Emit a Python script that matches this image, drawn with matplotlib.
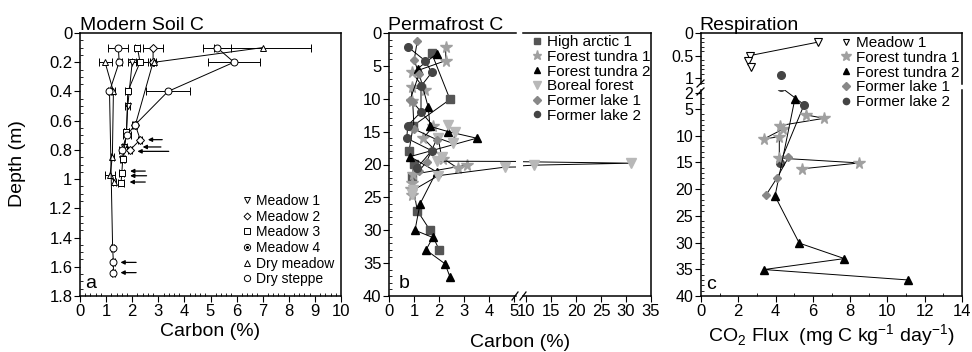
import matplotlib.pyplot as plt
from matplotlib.lines import Line2D
from matplotlib.ticker import MultipleLocator, FuncFormatter

plt.rcParams['font.family'] = ['Liberation Sans', 'DejaVu Sans']
plt.rcParams['mathtext.fontset'] = 'custom'
plt.rcParams['mathtext.rm'] = 'Liberation Sans'

# ---- panel a: Modern soil C (depth m, carbon %, error) ----
m1_d = [0.2, 0.5, 0.68, 0.78, 0.86]
m1_c = [2.0, 1.83, 1.78, 1.7, 1.62]
m1_e = [0.15, 0.1, 0.1, 0.1, 0.08]
m2_d = [0.1, 0.2, 0.63, 0.73, 0.8]
m2_c = [2.8, 2.8, 2.12, 2.31, 1.92]
m2_e = [0.37, 0.12, 0.08, 0.08, 0.08]
m3_d = [0.1, 0.2, 0.4, 0.68, 0.86, 0.96, 1.03]
m3_c = [2.2, 2.3, 1.83, 1.78, 1.64, 1.6, 1.57]
m3_e = [0.1, 0.3, 0.1, 0.08, 0.08, 0.1, 0.1]
m4_d = [0.1, 0.2, 0.4, 0.63, 0.7, 0.8]
m4_c = [5.25, 5.9, 3.37, 2.1, 1.8, 1.6]
m4_e = [0.55, 1.0, 0.85, 0.1, 0.15, 0.1]
dm_top_d = [0.1, 0.2]
dm_top_c = [7.0, 2.85]
dm_top_e = [1.85, 0.0]
dm_d = [0.2, 0.4, 0.85, 0.97, 1.02]
dm_c = [0.96, 1.28, 1.24, 1.15, 1.32]
dm_e = [0.25, 0.05, 0.05, 0.2, 0.05]
ds_d = [0.1, 0.2, 0.4, 1.47, 1.57, 1.64]
ds_c = [1.47, 1.5, 1.13, 1.25, 1.28, 1.28]
ds_e = [0.38, 0.1, 0.05, 0.05, 0.05, 0.05]
arrow_d = [0.73, 0.78, 0.81, 0.945, 0.977, 1.02, 1.57, 1.64]
arrow_head = [2.6, 2.4, 2.2, 1.92, 1.92, 1.9, 1.55, 1.55]
arrow_tail = [3.15, 3.1, 3.4, 2.5, 2.55, 2.5, 2.15, 2.15]

# ---- panel b: Permafrost C (depth m, carbon %) ----
ha_d = [3.1, 10.1, 14.1, 18.0, 19.9, 21.9, 27.0, 30.0, 33.0]
ha_c = [1.71, 2.44, 0.97, 0.80, 1.00, 0.90, 1.13, 1.64, 2.01]
ft1_d = [2.1, 4.2, 6.0, 8.7, 8.2, 10.3, 14.2, 16.0, 19.1, 20.6, 20.1, 21.5, 22.8, 23.8, 24.6]
ft1_c = [2.27, 2.27, 0.93, 1.44, 0.91, 0.91, 1.77, 1.37, 2.17, 2.77, 3.11, 0.95, 0.9, 0.88, 0.92]
ft2_d = [3.2, 5.4, 11.3, 14.2, 15.0, 16.0, 18.8, 21.1, 26.0, 30.0, 31.1, 33.0, 35.1, 37.1]
ft2_c = [1.9, 1.15, 1.57, 1.64, 2.37, 3.51, 0.84, 1.9, 1.24, 1.04, 1.75, 1.48, 2.24, 2.44]
bf_d = [14.0, 15.0, 16.8, 16.0, 18.8, 19.5, 19.8, 20.1, 20.4, 21.7, 23.9, 24.5]
bf_c = [2.37, 2.64, 2.57, 1.97, 2.1, 1.9, 31.0, 11.5, 4.64, 1.97, 0.97, 0.9]
fl1_d = [1.2, 4.1, 6.3, 10.2, 10.5, 14.6, 16.2, 19.6, 21.0]
fl1_c = [1.13, 1.01, 1.2, 0.84, 0.95, 1.0, 1.9, 1.5, 1.2]
fl2_d = [2.1, 4.2, 6.0, 8.1, 12.0, 14.1, 16.0, 17.9, 20.6]
fl2_c = [0.75, 1.44, 1.71, 1.28, 1.28, 0.75, 0.71, 1.71, 1.1]

# ---- panel c: Respiration (depth m, CO2 flux) ----
rm1_d = [0.2, 0.5, 0.63, 0.76]
rm1_f = [6.3, 2.63, 2.54, 2.68]
rft1_d = [6.1, 6.75, 8.1, 8.8, 10.6, 10.2, 14.2, 15.1, 16.2]
rft1_f = [5.62, 6.6, 4.24, 4.38, 3.38, 4.2, 4.2, 8.5, 5.4]
rft2_d = [3.05, 21.3, 30.1, 33.0, 35.05, 37.0]
rft2_f = [5.04, 3.97, 5.27, 7.69, 3.38, 11.12]
rfl1_d = [14.05, 18.0, 21.1]
rfl1_f = [4.69, 4.06, 3.49]
rfl2_d = [0.94, 4.2, 15.1]
rfl2_f = [4.29, 5.53, 4.24]

W, H = 972, 352
fig = plt.figure(figsize=(W / 100, H / 100), dpi=100)


def box(l, t, r, b):
    return fig.add_axes([l / W, 1 - b / H, (r - l) / W, (b - t) / H])


def style(ax):
    ax.tick_params(which='major', direction='out', length=4, width=0.8, labelsize=12, pad=1.5)
    ax.tick_params(which='minor', direction='in', length=2.5, width=0.6)
    for s in ax.spines.values():
        s.set_linewidth(1.1)


def fline(x1, y1, x2, y2, lw=0.9):
    fig.add_artist(Line2D([x1 / W, x2 / W], [1 - y1 / H, 1 - y2 / H],
                          transform=fig.transFigure, color='k', lw=lw))


fmt = FuncFormatter(lambda v, p: '%g' % v)

# ================= panel a =================
ax = box(80, 33, 341, 296)
style(ax)
ax.set_xlim(0, 10)
ax.set_ylim(1.8, 0)
ax.xaxis.set_major_locator(MultipleLocator(1))
ax.xaxis.set_minor_locator(MultipleLocator(0.2))
ax.yaxis.set_major_locator(MultipleLocator(0.2))
ax.yaxis.set_minor_locator(MultipleLocator(0.05))
ax.yaxis.set_major_formatter(fmt)

eb = dict(color='k', lw=0.7, mfc='white', mec='k', mew=0.7,
          capsize=3, elinewidth=0.7, capthick=0.7)
series_a = [(m1_c, m1_d, m1_e, 'v'), (m2_c, m2_d, m2_e, 'D'), (m3_c, m3_d, m3_e, 's'),
            (m4_c, m4_d, m4_e, 'o'), (dm_top_c, dm_top_d, dm_top_e, '^'),
            (dm_c, dm_d, dm_e, '^'), (ds_c, ds_d, ds_e, 'o')]
for c, d, e, mk in series_a:
    ms = 4 if mk == 'D' else 5
    ax.errorbar(c, d, xerr=e, fmt='-', marker=mk, ms=ms, **eb)
ax.plot(m4_c, m4_d, 'o', ms=1.3, color='k')

for d, h, t in zip(arrow_d, arrow_head, arrow_tail):
    ax.annotate('', xy=(h, d), xytext=(t, d),
                arrowprops=dict(arrowstyle='-|>', color='k', lw=0.9, mutation_scale=6,
                                shrinkA=0, shrinkB=0))
ax.text(0.02, 0.015, 'a', transform=ax.transAxes, fontsize=14, va='bottom')
ax.set_xlabel('Carbon (%)', fontsize=14, labelpad=3)

hand_a = [Line2D([], [], ls='none', marker=m, ms=4.5, mfc='white', mec='k', mew=0.7)
          for m in ['v', 'D', 's', 'o', '^', 'o']]
hand_a[1].set_markersize(3.5)
hand_a[3] = (hand_a[3], Line2D([], [], ls='none', marker='o', ms=1.2, color='k'))
fig.legend(hand_a, ['Meadow 1', 'Meadow 2', 'Meadow 3', 'Meadow 4', 'Dry meadow', 'Dry steppe'],
           loc='upper left', bbox_to_anchor=(241 / W, 1 - 194 / H), frameon=False,
           fontsize=10, handlelength=0.8, handletextpad=0.3, labelspacing=0.12,
           borderpad=0, borderaxespad=0)

fig.text(18 / W, 1 - 164 / H, 'Depth (m)', rotation=90, fontsize=14, va='center', ha='center')
fig.text(80 / W, 1 - 30 / H, 'Modern Soil C', fontsize=14, va='baseline')

# ================= panel b =================
bl = box(389, 33, 516, 296)
br = box(523, 33, 651, 296)
for a in (bl, br):
    style(a)
    a.set_ylim(40, 0)
bl.set_xlim(0, 5.08)
br.set_xlim(9.4, 35)
bl.xaxis.set_major_locator(MultipleLocator(1))
br.xaxis.set_major_locator(MultipleLocator(5))
bl.yaxis.set_major_locator(MultipleLocator(5))
bl.yaxis.set_minor_locator(MultipleLocator(1))
bl.spines['right'].set_visible(False)
br.spines['left'].set_visible(False)
br.tick_params(axis='y', left=False, labelleft=False, which='both')

series_b = [(ha_c, ha_d, 's', '#555555', 5.5, 'High arctic 1'),
            (ft1_c, ft1_d, '*', '#a0a0a0', 8.5, 'Forest tundra 1'),
            (ft2_c, ft2_d, '^', 'black', 5.5, 'Forest tundra 2'),
            (bf_c, bf_d, 'v', '#b8b8b8', 6.5, 'Boreal forest'),
            (fl1_c, fl1_d, 'D', '#888888', 4.5, 'Former lake 1'),
            (fl2_c, fl2_d, 'o', '#444444', 5.5, 'Former lake 2')]
for a in (bl, br):
    for c, d, mk, col, ms, lab in series_b:
        a.plot(c, d, '-', color='k', lw=0.7, marker=mk, ms=ms, mfc=col, mec=col)
bl.text(0.08, 0.015, 'b', transform=bl.transAxes, fontsize=14, va='bottom')
fig.text(520 / W, 1 - 347 / H, 'Carbon (%)', fontsize=14, ha='center', va='baseline')
fig.text(388 / W, 1 - 30 / H, 'Permafrost C', fontsize=14, va='baseline')
fline(512, 300, 518, 292)
fline(520, 300, 526, 292)

hand_b = [Line2D([], [], ls='none', marker=mk, ms=ms * 0.8, mfc=col, mec=col)
          for c, d, mk, col, ms, lab in series_b]
fig.legend(hand_b, [s[5] for s in series_b], loc='upper left',
           bbox_to_anchor=(532 / W, 1 - 35 / H), frameon=False, fontsize=11,
           handlelength=0.6, handletextpad=0.35, labelspacing=0.05, borderpad=0, borderaxespad=0)

# ================= panel c =================
cu = box(701, 33, 962, 84)
cl = box(701, 90, 962, 296)
for a in (cu, cl):
    style(a)
    a.set_xlim(0, 14)
cu.set_ylim(1.13, 0)
cl.set_ylim(40, 1.45)
cu.set_yticks([0, 0.5, 1])
cu.yaxis.set_major_formatter(fmt)
cu.yaxis.set_minor_locator(MultipleLocator(0.1))
cl.set_yticks([2, 5, 10, 15, 20, 25, 30, 35, 40])
cl.yaxis.set_minor_locator(MultipleLocator(1))
cl.xaxis.set_major_locator(MultipleLocator(2))
cl.xaxis.set_minor_locator(MultipleLocator(1))
cu.spines['bottom'].set_visible(False)
cu.tick_params(axis='x', bottom=False, labelbottom=False, which='both')
cl.spines['top'].set_visible(False)
cl.patch.set_alpha(0)
cu.tick_params(axis='y', labelsize=11.5)
cl.tick_params(axis='y', labelsize=11.5)

lk = dict(color='k', lw=0.7)
cu.plot(rm1_f, rm1_d, '-', marker='v', ms=5.5, mfc='white', mec='k', mew=0.8, **lk)
cu.plot(rfl2_f[:1], rfl2_d[:1], 'o', ms=5.5, color='#444444')
cl.plot(rfl2_f, rfl2_d, '-', marker='o', ms=5.5, mfc='#444444', mec='#444444', **lk)
cl.plot(rft1_f, rft1_d, '-', marker='*', ms=8.5, mfc='#a0a0a0', mec='#a0a0a0', **lk)
cl.plot(rft2_f, rft2_d, '-', marker='^', ms=5.5, mfc='k', mec='k', **lk)
cl.plot(rfl1_f, rfl1_d, '-', marker='D', ms=4.5, mfc='#888888', mec='#888888', **lk)
cl.text(0.02, 0.015, 'c', transform=cl.transAxes, fontsize=14, va='bottom')
cl.set_xlabel('CO$_2$ Flux  (mg C kg$^{\\mathregular{-1}}$ day$^{\\mathregular{-1}}$)',
              fontsize=14, labelpad=3)
fig.text(699 / W, 1 - 30 / H, 'Respiration', fontsize=14, va='baseline')
fline(697, 87, 704, 80)
fline(697, 95, 704, 88)

hand_c = [Line2D([], [], ls='none', marker='v', ms=5, mfc='white', mec='k', mew=0.8),
          Line2D([], [], ls='none', marker='*', ms=7.5, mfc='#a0a0a0', mec='#a0a0a0'),
          Line2D([], [], ls='none', marker='^', ms=4.5, mfc='k', mec='k'),
          Line2D([], [], ls='none', marker='D', ms=3.8, mfc='#888888', mec='#888888'),
          Line2D([], [], ls='none', marker='o', ms=4.5, mfc='#444444', mec='#444444')]
fig.legend(hand_c, ['Meadow 1', 'Forest tundra 1', 'Forest tundra 2', 'Former lake 1', 'Former lake 2'],
           loc='upper left', bbox_to_anchor=(841 / W, 1 - 36 / H), frameon=False, fontsize=11,
           handlelength=0.6, handletextpad=0.35, labelspacing=0.05, borderpad=0, borderaxespad=0)

fig.savefig('out.png', dpi=100)
